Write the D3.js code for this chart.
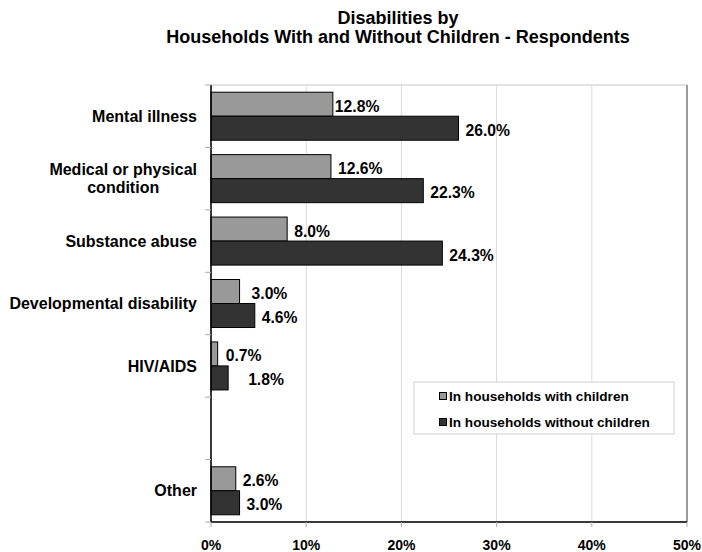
<!DOCTYPE html>
<html>
<head>
<meta charset="utf-8">
<script src="https://cdn.jsdelivr.net/npm/d3@7"></script>
<style>
  html, body { margin: 0; padding: 0; background: #fff; }
  svg { display: block; font-family: Arial, "Liberation Sans", sans-serif; }
</style>
</head>
<body>
<svg id="chart" width="702" height="552"></svg>
<script>
// Chart data
const categories = [
  "Mental illness",
  "Medical or physical condition",
  "Substance abuse",
  "Developmental disability",
  "HIV/AIDS",
  "",
  "Other"
];
const seriesNames = ["In households with children", "In households without children"];
const withChildren = [12.8, 12.6, 8.0, 3.0, 0.7, null, 2.6];
const withoutChildren = [26.0, 22.3, 24.3, 4.6, 1.8, null, 3.0];
const xTicks = [0, 10, 20, 30, 40, 50];
const titleLines = ["Disabilities by", "Households With and Without Children - Respondents"];

const seriesValues = [withChildren, withoutChildren];
const seriesFill = ["#999999", "#333333"];
// Extra horizontal gap for a few data labels, keyed "series:category"
const labelGap = { "0:0": -5, "0:3": 5, "0:4": 1, "1:4": 13 };

const svg = d3.select("#chart");
const plot = { left: 211, right: 687, top: 85, bottom: 522 };

const x = d3.scaleLinear().domain([0, 50]).range([plot.left, plot.right]);
const y = d3.scaleBand().domain(d3.range(categories.length)).range([plot.top, plot.bottom]);
const ySub = d3.scaleBand().domain(d3.range(seriesNames.length))
  .range([0, y.bandwidth()]).paddingInner(0).paddingOuter(0.3);

// Title
svg.append("g").selectAll("text").data(titleLines).join("text")
  .attr("x", 398).attr("y", (d, i) => 23.5 + i * 19)
  .attr("text-anchor", "middle")
  .attr("font-size", 18).attr("font-weight", "bold").attr("fill", "#000")
  .text(d => d);

// Plot frame and vertical gridlines
svg.append("rect")
  .attr("x", plot.left).attr("y", plot.top)
  .attr("width", plot.right - plot.left).attr("height", plot.bottom - plot.top)
  .attr("fill", "#fff").attr("stroke", "#c8c8c8");
svg.append("g").selectAll("line").data(xTicks.slice(1, -1)).join("line")
  .attr("x1", d => x(d)).attr("x2", d => x(d))
  .attr("y1", plot.top).attr("y2", plot.bottom)
  .attr("stroke", "#d9d9d9");
svg.append("line")
  .attr("x1", plot.right).attr("x2", plot.right)
  .attr("y1", plot.top).attr("y2", plot.bottom)
  .attr("stroke", "#555");

// Bars and data labels
seriesValues.forEach((vals, s) => {
  const rows = vals.map((v, i) => ({ v, i })).filter(d => d.v != null);
  svg.append("g").selectAll("rect").data(rows).join("rect")
    .attr("x", x(0))
    .attr("y", d => y(d.i) + ySub(s))
    .attr("width", d => x(d.v) - x(0))
    .attr("height", ySub.bandwidth())
    .attr("fill", seriesFill[s])
    .attr("stroke", "#000").attr("stroke-width", 1);
  svg.append("g").selectAll("text").data(rows).join("text")
    .attr("x", d => x(d.v) + 7 + (labelGap[s + ":" + d.i] || 0))
    .attr("y", d => y(d.i) + ySub(s) + ySub.bandwidth() / 2 + 7.5)
    .attr("font-size", 15.7).attr("font-weight", "bold").attr("fill", "#000")
    .text(d => d.v.toFixed(1) + "%");
});

// Left axis
const yAxis = svg.append("g").attr("transform", `translate(${plot.left},0)`);
yAxis.append("line")
  .attr("x1", 0).attr("x2", 0).attr("y1", plot.top).attr("y2", plot.bottom)
  .attr("stroke", "#000").attr("stroke-width", 1.5);
yAxis.selectAll("line.tick").data(d3.range(categories.length + 1)).join("line")
  .attr("class", "tick")
  .attr("x1", -6).attr("x2", 0)
  .attr("y1", i => plot.top + i * y.step()).attr("y2", i => plot.top + i * y.step())
  .attr("stroke", "#aaa");
yAxis.selectAll("g.cat").data(categories).join("g")
  .attr("class", "cat")
  .each(function (d, i) {
    const lines = d === "Medical or physical condition" ? ["Medical or physical", "condition"] : [d];
    const g = d3.select(this);
    const cy = y(i) + y.bandwidth() / 2;
    const texts = lines.map((ln, k) => g.append("text")
      .attr("y", cy + 5.7 + (k - (lines.length - 1) / 2) * 18.3)
      .attr("font-size", 16).attr("font-weight", "bold").attr("fill", "#000")
      .text(ln));
    const maxW = d3.max(texts, t => t.node().getComputedTextLength());
    texts.forEach(t => t.attr("text-anchor", "middle").attr("x", -14 - maxW / 2));
  });

// Bottom axis
const xAxis = svg.append("g");
xAxis.append("line")
  .attr("x1", plot.left).attr("x2", plot.right).attr("y1", plot.bottom).attr("y2", plot.bottom)
  .attr("stroke", "#000").attr("stroke-width", 1.5);
xAxis.selectAll("line.tick").data(xTicks).join("line")
  .attr("class", "tick")
  .attr("x1", d => x(d)).attr("x2", d => x(d))
  .attr("y1", plot.bottom).attr("y2", plot.bottom + 5)
  .attr("stroke", "#aaa");
xAxis.selectAll("text").data(xTicks).join("text")
  .attr("x", d => x(d)).attr("y", plot.bottom + 28)
  .attr("text-anchor", "middle")
  .attr("font-size", 14).attr("font-weight", "bold").attr("fill", "#000")
  .text(d => d + "%");

// Legend
const legend = svg.append("g").attr("transform", "translate(414,382)");
legend.append("rect")
  .attr("width", 260).attr("height", 52)
  .attr("fill", "#fff").attr("stroke", "#cfcfcf");
const items = legend.selectAll("g").data(seriesNames).join("g")
  .attr("transform", (d, i) => `translate(25,${10 + i * 26})`);
items.append("rect")
  .attr("x", 0.5).attr("y", 0.5).attr("width", 7).attr("height", 7)
  .attr("fill", (d, i) => seriesFill[i]).attr("stroke", "#000");
items.append("text")
  .attr("x", 10).attr("y", 9)
  .attr("font-size", 13.6).attr("font-weight", "bold").attr("fill", "#000")
  .text(d => d);
</script>
</body>
</html>
